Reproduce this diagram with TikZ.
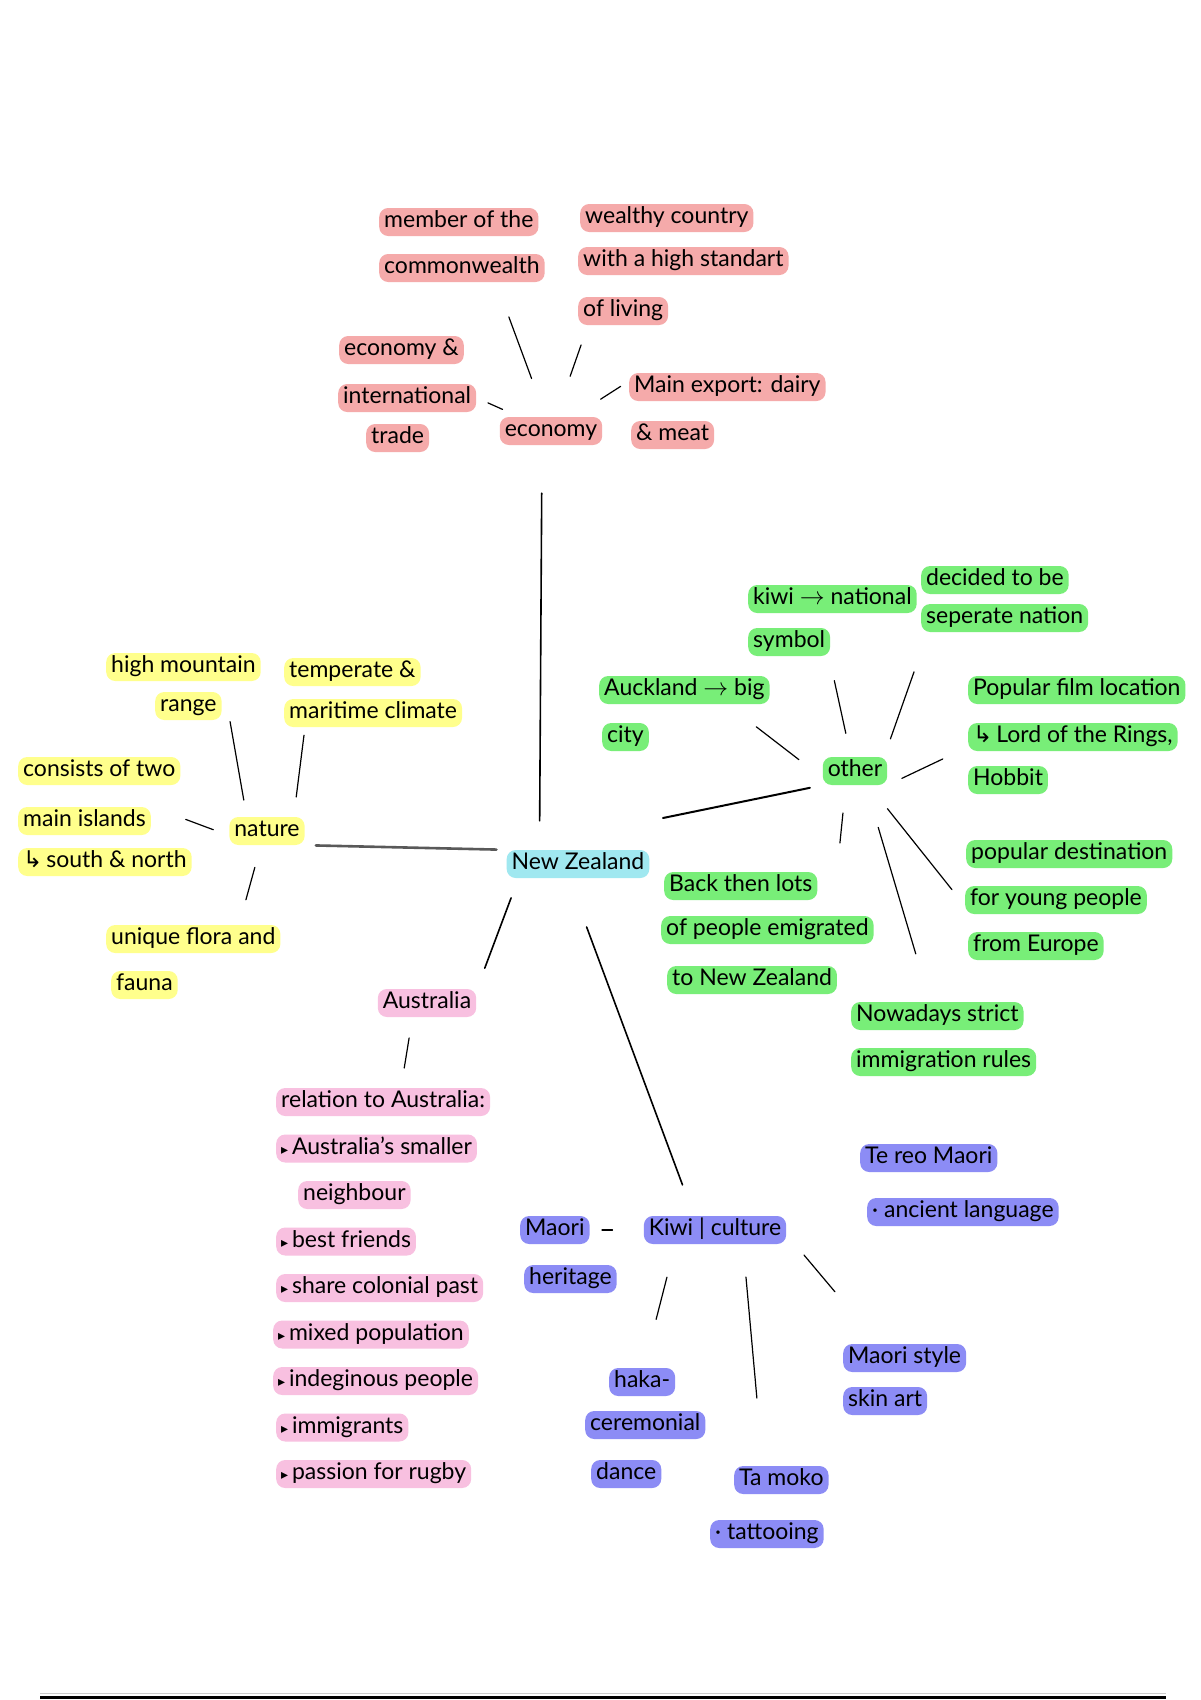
\documentclass[tikz,border=0pt]{standalone}
\usepackage{fontspec}
\setmainfont{Lato}
\newfontfamily\symfont{DejaVu Sans}
\newcommand\handfont{\fontsize{23}{27}\selectfont}
\newcommand\bul{{\symfont\fontsize{14}{16}\selectfont ▸}\,}
\newcommand\hook{{\symfont ↳}\,}
\definecolor{ecopink}{RGB}{245,170,170}
\definecolor{natyellow}{RGB}{255,255,140}
\definecolor{othgreen}{RGB}{120,238,120}
\definecolor{auspink}{RGB}{248,192,224}
\definecolor{culblue}{RGB}{140,140,245}
\definecolor{nzcyan}{RGB}{160,232,240}

\begin{document}
\begin{tikzpicture}[x=1pt, y=-1pt,
    hl/.style={anchor=west, rounded corners=9pt, inner xsep=5pt, inner ysep=3.5pt,
      text height=16pt, text depth=5pt, font=\handfont},
    eco/.style={hl, fill=ecopink},
    nat/.style={hl, fill=natyellow},
    oth/.style={hl, fill=othgreen},
    aus/.style={hl, fill=auspink},
    cul/.style={hl, fill=culblue},
    hub/.style={anchor=center},
    twig/.style={line width=1.2pt, line cap=round},
    trunk/.style={line width=1.6pt, line cap=round}]

	\path[use as bounding box, fill=white] (0,0) rectangle (1200,1700);

	% centre
	\node[hl, hub, fill=nzcyan] (nz) at (578,864) {New Zealand};

	% economy
	\node[eco, hub] (eco) at (551,431) {economy};
	\node[eco] (member) at (379,222) {member of the};
	\node[eco] (cw) at (379,268) {commonwealth};
	\node[eco] (wealthy) at (580,218) {wealthy country};
	\node[eco] (standard) at (578,261) {with a high standart};
	\node[eco] (living) at (578,311) {of living};
	\node[eco] (econtrade) at (339,350) {economy \&};
	\node[eco] (intl) at (338,398) {international};
	\node[eco] (trade) at (366,438) {trade};
	\node[eco] (export) at (629,387) {Main export: dairy};
	\node[eco] (meat) at (631,435) {\& meat};

	\draw[twig, shorten <=56pt, shorten >=37pt] (eco.center) -- ([xshift=117pt]cw.south west);
	\draw[twig, shorten <=58pt, shorten >=21pt] (eco.center) -- ([xshift=10pt]living.south west);
	\draw[twig, shorten <=53pt, shorten >=12pt] (eco.center) -- ([xshift=139pt]intl.west);
	\draw[twig, shorten <=59pt, shorten >=10pt] (eco.center) -- ([yshift=6pt]export.west);
	\draw[trunk, shorten <=48pt, shorten >=29pt] ([xshift=-9pt]eco.south) -- ([xshift=33pt]nz.north west);

	% nature
	\node[nat, hub] (nature) at (267,831) {nature};
	\node[nat] (mountain) at (106,667) {high mountain};
	\node[nat] (range) at (155,706) {range};
	\node[nat] (temperate) at (284,672) {temperate \&};
	\node[nat] (maritime) at (284,713) {maritime climate};
	\node[nat] (consists) at (18,771) {consists of two};
	\node[nat] (islands) at (18,821) {main islands};
	\node[nat] (southnorth) at (18,862) {\hook south \& north};
	\node[nat] (flora) at (106,939) {unique flora and};
	\node[nat] (fauna) at (111,985) {fauna};

	\draw[twig, shorten <=17pt, shorten >=41pt] (nature.145) -- ([xshift=117pt]mountain.south west);
	\draw[twig, shorten <=20pt, shorten >=8pt] (nature.28) -- ([xshift=21pt]maritime.south west);
	\draw[twig, shorten <=17pt, shorten >=36pt] (nature.-173) -- ([xshift=134pt]islands.north west);
	\draw[twig, shorten <=23pt, shorten >=26pt] (nature.-113) -- ([xshift=133pt]flora.north west);
	\draw[trunk, gray!70!black, line width=2.6pt, shorten <=11pt, shorten >=10pt] (nature.south east) -- (nz.north west);

	% other
	\node[oth, hub] (other) at (855,771) {other};
	\node[oth] (kiwi) at (748,599) {kiwi $\to$ national};
	\node[oth] (symbol) at (748,642) {symbol};
	\node[oth] (decided) at (921,580) {decided to be};
	\node[oth] (nation) at (921,618) {seperate nation};
	\node[oth] (auckland) at (599,690) {Auckland $\to$ big};
	\node[oth] (city) at (602,737) {city};
	\node[oth] (film) at (968,690) {Popular film location};
	\node[oth] (lotr) at (968,737) {\hook Lord of the Rings,};
	\node[oth] (hobbit) at (968,780) {Hobbit};
	\node[oth] (dest) at (966,854) {popular destination};
	\node[oth] (young) at (965,900) {for young people};
	\node[oth] (europe) at (968,946) {from Europe};
	\node[oth] (backthen) at (664,886) {Back then lots};
	\node[oth] (emigrated) at (661,930) {of people emigrated};
	\node[oth] (tonz) at (667,980) {to New Zealand};
	\node[oth] (nowadays) at (851,1016) {Nowadays strict};
	\node[oth] (rules) at (851,1062) {immigration rules};

	\draw[twig, shorten <=30pt, shorten >=37pt] (other.-168) -- ([xshift=128pt]auckland.south west);
	\draw[twig, shorten <=24pt, shorten >=25pt] (other.106) -- ([xshift=81pt]symbol.south west);
	\draw[twig, shorten <=19pt, shorten >=42pt] (other.26) -- ([xshift=7pt]nation.south west);
	\draw[twig, shorten <=16pt, shorten >=28pt] (other.south east) -- ([yshift=-10pt]lotr.west);
	\draw[twig, shorten <=28pt, shorten >=29pt] (other.-123) -- ([xshift=173pt]backthen.north west);
	\draw[twig, shorten <=44pt, shorten >=50pt] (other.-53) -- ([xshift=79pt]nowadays.north west);
	\draw[twig, shorten <=30pt, shorten >=21pt] (other.-46) -- ([yshift=-6pt]young.west);
	\coordinate (nzend) at (663,818);
	\draw[trunk, line width=2pt, shorten <=13pt] (other.south west) -- (nzend);

	% australia
	\node[hl, hub, fill=auspink] (australia) at (427,1003) {Australia};
	\draw[trunk, shorten <=21pt, shorten >=22pt] ([xshift=12pt]nz.south west) -- ([xshift=50pt]australia.north);
	\foreach \x/\t [count=\i from 0] in {276/relation to Australia:, 276/\bul Australia's smaller,
		298/neighbour, 276/\bul best friends, 276/\bul share colonial past, 273/\bul mixed population,
		273/\bul indeginous people, 276/\bul immigrants, 276/\bul passion for rugby} {
		\node[aus] (rel\i) at (\x, 1102+46.5*\i) {\t};
	}
	\draw[twig, shorten <=21pt, shorten >=20pt] ([xshift=-14.5pt]australia.south) -- ([xshift=125pt]rel0.north west);

	% kiwi culture
	\node[cul, hub] (culture) at (715,1230) {Kiwi | culture};
	\node[cul] (maori) at (520,1230) {Maori};
	\node[cul] (heritage) at (524,1279) {heritage};
	\node[cul] (tereo) at (860,1158) {Te reo Maori};
	\node[cul] (ancient) at (867,1212) {· ancient language};
	\node[cul] (style) at (843,1358) {Maori style};
	\node[cul] (skin) at (843,1401) {skin art};
	\node[cul] (haka) at (609,1382) {haka-};
	\node[cul] (ceremonial) at (585,1425) {ceremonial};
	\node[cul] (dance) at (591,1474) {dance};
	\node[cul] (moko) at (734,1480) {Ta moko};
	\node[cul] (tattoo) at (710,1534) {· tattooing};

	\draw[trunk, shorten <=52pt, shorten >=33pt] ([xshift=62pt]nz.south west) -- ([xshift=-21pt]culture.north);
	\draw[twig, shorten <=29pt, shorten >=25pt] ([xshift=-73.5pt]culture.center) -- ([xshift=57pt]maori.west);
	\draw[twig, shorten <=34pt, shorten >=50pt] ([xshift=-39.6pt]culture.south) -- ([xshift=34.7pt]haka.north west);
	\draw[twig, shorten <=33pt, shorten >=68pt] ([xshift=28pt]culture.south) -- ([xshift=29pt]moko.north west);
	\draw[twig, shorten <=24pt, shorten >=68pt] ([xshift=73.5pt, yshift=-6.6pt]culture.center) -- ([xshift=35.7pt]style.north west);

	% page rule
	\draw[gray!40, line width=1pt] (40,1693.5) -- (1166,1693.5);
	\draw[line width=3pt] (40,1697) -- (1166,1697);
\end{tikzpicture}
\end{document}
